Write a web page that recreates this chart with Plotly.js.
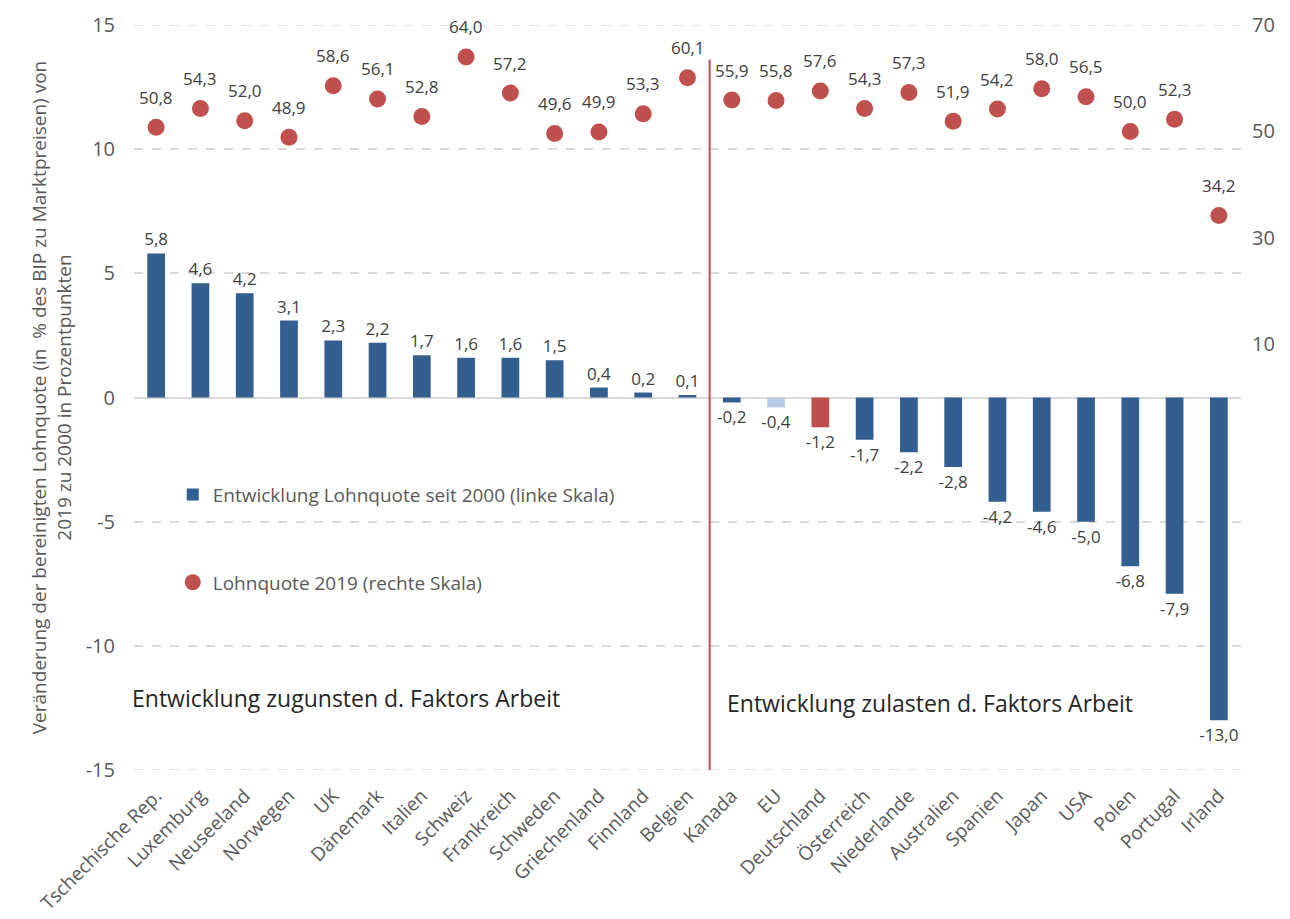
<!DOCTYPE html>
<html>
<head>
<meta charset="utf-8">
<script src="https://cdn.plot.ly/plotly-3.0.1.min.js"></script>
<style>html,body{margin:0;padding:0;background:#fff;}#chart{width:1290px;height:919px;}</style>
</head>
<body>
<div id="chart"></div>
<script>
const categories = ["Tschechische Rep.", "Luxemburg", "Neuseeland", "Norwegen", "UK", "Dänemark", "Italien", "Schweiz", "Frankreich", "Schweden", "Griechenland", "Finnland", "Belgien", "Kanada", "EU", "Deutschland", "Österreich", "Niederlande", "Australien", "Spanien", "Japan", "USA", "Polen", "Portugal", "Irland"];
const changeSince2000 = [5.8, 4.6, 4.2, 3.1, 2.3, 2.2, 1.7, 1.6, 1.6, 1.5, 0.4, 0.2, 0.1, -0.2, -0.4, -1.2, -1.7, -2.2, -2.8, -4.2, -4.6, -5.0, -6.8, -7.9, -13.0];
const wageShare2019 = [50.8, 54.3, 52.0, 48.9, 58.6, 56.1, 52.8, 64.0, 57.2, 49.6, 49.9, 53.3, 60.1, 55.9, 55.8, 57.6, 54.3, 57.3, 51.9, 54.2, 58.0, 56.5, 50.0, 52.3, 34.2];
const leftTicks = [-15, -10, -5, 0, 5, 10, 15];
const rightTicks = [10, 30, 50, 70];

const FONT = "Open Sans, sans-serif";
const BLUE = "#335E90", LIGHT = "#B8CCE4", RED = "#C0504D";
const barColors = categories.map(c => c === "EU" ? LIGHT : (c === "Deutschland" ? RED : BLUE));
const fmt = v => v.toFixed(1).replace(".", ",");

const traces = [
  {
    type: "bar", x: categories, y: changeSince2000,
    name: "Entwicklung Lohnquote seit 2000 (linke Skala)", legendgroup: "a",
    marker: {color: barColors},
    text: changeSince2000.map(fmt), textposition: "outside", constraintext: "none",
    textfont: {family: FONT, size: 17, color: "#404040"}, cliponaxis: false,
    hoverinfo: "x+y"
  },
  {
    type: "scatter", mode: "markers", x: categories, y: wageShare2019, yaxis: "y2",
    name: "Lohnquote 2019 (rechte Skala)", legendgroup: "b",
    marker: {color: RED, size: 17}, cliponaxis: false
  }
];

const annotations = categories.map((c, i) => ({
  x: c, y: wageShare2019[i], xref: "x", yref: "y2", yshift: 30, showarrow: false,
  text: fmt(wageShare2019[i]), font: {family: FONT, size: 17, color: "#404040"}
}));
annotations.push({
  xref: "paper", yref: "paper", x: -0.004, y: 0.096, xanchor: "left", yanchor: "middle",
  text: "Entwicklung zugunsten d. Faktors Arbeit", showarrow: false,
  font: {family: FONT, size: 23, color: "#262626"}
});
annotations.push({
  xref: "paper", yref: "paper", x: 0.534, y: 0.09, xanchor: "left", yanchor: "middle",
  text: "Entwicklung zulasten d. Faktors Arbeit", showarrow: false,
  font: {family: FONT, size: 23, color: "#262626"}
});

const edgeGrid = [15, -15].map(v => ({
  type: "line", xref: "paper", yref: "y", x0: 0, x1: 1, y0: v, y1: v,
  line: {color: "#D9D9D9", width: 1.5, dash: "dash"}, layer: "below"
}));

const layout = {
  width: 1290, height: 919,
  margin: {l: 134, r: 49, t: 25, b: 149},
  paper_bgcolor: "#fff", plot_bgcolor: "#fff",
  font: {family: FONT, color: "#595959"},
  separators: ",.",
  bargap: 0.6,
  showlegend: true,
  legend: {
    x: 0.035, y: 0.395, xanchor: "left", yanchor: "top",
    traceorder: "grouped", tracegroupgap: 60,
    font: {family: FONT, size: 19, color: "#595959"},
    bgcolor: "rgba(0,0,0,0)", itemwidth: 30
  },
  xaxis: {
    type: "category", range: [-0.5, 24.5], tickangle: -45, showgrid: false, zeroline: false, showline: false, ticks: "",
    tickfont: {family: FONT, size: 19, color: "#595959"}, ticklabelstandoff: 10, automargin: false
  },
  yaxis: {
    range: [-15, 15], tickvals: leftTicks, ticktext: leftTicks.map(String),
    showgrid: true, gridcolor: "#D9D9D9", gridwidth: 1.5, griddash: "dash",
    zeroline: true, zerolinecolor: "#D9D9D9", zerolinewidth: 2,
    tickfont: {family: FONT, size: 20, color: "#595959"}, ticks: "", ticklen: 0,
    ticklabelstandoff: 18,
    automargin: false,
    title: {
      text: "Veränderung der bereinigten Lohnquote (in  % des BIP zu Marktpreisen) von<br>2019 zu 2000 in Prozentpunkten",
      font: {family: FONT, size: 19, color: "#595959"}, standoff: 9
    }
  },
  yaxis2: {
    overlaying: "y", side: "right", range: [-70, 70], tickvals: rightTicks, ticktext: rightTicks.map(String),
    showgrid: false, zeroline: false, tickfont: {family: FONT, size: 20, color: "#595959"},
    ticklabelstandoff: 10, automargin: false
  },
  shapes: edgeGrid.concat([{
    type: "line", xref: "x", yref: "y", x0: 12.5, x1: 12.5, y0: -15, y1: 13.6,
    line: {color: RED, width: 2}
  }]),
  annotations: annotations
};

Plotly.newPlot("chart", traces, layout, {displayModeBar: false, responsive: false});
</script>
</body>
</html>
